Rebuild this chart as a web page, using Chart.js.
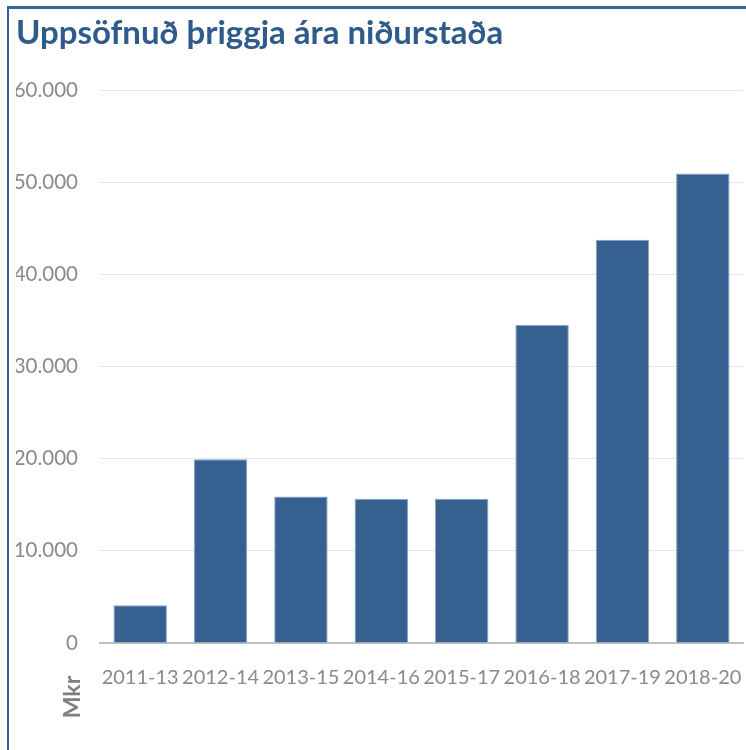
<!DOCTYPE html>
<html>
<head>
<meta charset="utf-8">
<script src="https://cdn.jsdelivr.net/npm/chart.js@4.4.1/dist/chart.umd.min.js"></script>
<style>
  html, body { margin: 0; padding: 0; background: #ffffff; }
  #wrap { position: relative; width: 746px; height: 750px; overflow: hidden; }
  #frame { position: absolute; left: 7px; top: 6px; width: 760px; height: 760px;
           border-left: 2px solid #3a6496; border-top: 3px solid #3a6496; box-sizing: border-box; }
  canvas { position: absolute; left: 0; top: 0; }
</style>
</head>
<body>
<div id="wrap">
  <div id="frame"></div>
  <canvas id="c" width="746" height="750"></canvas>
</div>
<script>
const categories = ["2011-13", "2012-14", "2013-15", "2014-16", "2015-17", "2016-18", "2017-19", "2018-20"];
const values = [4100, 19950, 15900, 15650, 15650, 34500, 43750, 50950];
const titleText = "Uppsöfnuð þriggja ára niðurstaða";
const unitLabel = "Mkr";
const yTicks = [0, 10000, 20000, 30000, 40000, 50000, 60000];

function fmt(v) {
  return String(v).replace(/\B(?=(\d{3})+(?!\d))/g, ".");
}

const unitPlugin = {
  id: 'unitLabel',
  afterDraw(chart) {
    const ctx = chart.ctx;
    ctx.save();
    ctx.translate(80, 697);
    ctx.rotate(-Math.PI / 2);
    ctx.font = "bold 23px Lato";
    ctx.fillStyle = "#7f7f7f";
    ctx.textAlign = "center";
    ctx.textBaseline = "alphabetic";
    ctx.fillText(unitLabel, 0, 0);
    ctx.restore();
  }
};

new Chart(document.getElementById('c'), {
  type: 'bar',
  data: {
    labels: categories,
    datasets: [{
      data: values,
      backgroundColor: '#36608f',
      borderColor: '#8aa3c4',
      borderWidth: 1,
      barPercentage: 0.665,
      categoryPercentage: 1.0
    }]
  },
  options: {
    responsive: false,
    animation: false,
    devicePixelRatio: 1,
    layout: { padding: { left: 16, right: 3, top: 0, bottom: 0 } },
    plugins: {
      legend: { display: false },
      tooltip: { enabled: false },
      title: {
        display: true,
        text: titleText,
        align: 'start',
        color: '#2f5b8c',
        font: { family: 'Lato', size: 33, weight: 'bold' },
        padding: { top: 14, bottom: 36.5 }
      }
    },
    scales: {
      x: {
        grid: { display: false },
        border: { display: true, color: '#bfbfbf', width: 2 },
        ticks: {
          autoSkip: false, maxRotation: 0, minRotation: 0,
          color: '#8a8a8a',
          font: { family: 'Lato', size: 20 },
          padding: 15
        },
        afterFit(scale) { scale.height = 107; scale.paddingLeft = 0; scale.paddingRight = 0; }
      },
      y: {
        min: 0, max: 60000,
        afterBuildTicks(scale) { scale.ticks = yTicks.map(v => ({ value: v })); },
        grid: { color: '#e6e6e6', lineWidth: 1, drawTicks: false },
        border: { display: false },
        ticks: {
          color: '#8a8a8a',
          font: { family: 'Lato', size: 20.5 },
          padding: 22,
          callback: (v) => fmt(v)
        },
        afterFit(scale) { scale.width = 84; scale.paddingTop = 0; scale.paddingBottom = 0; }
      }
    }
  },
  plugins: [unitPlugin]
});
</script>
</body>
</html>
